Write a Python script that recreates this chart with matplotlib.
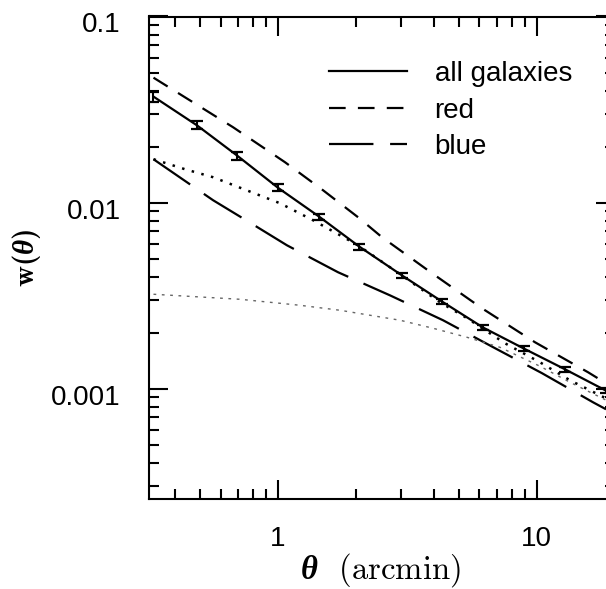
import matplotlib
matplotlib.use("Agg")
import matplotlib.pyplot as plt
from matplotlib.ticker import FuncFormatter, NullFormatter, LogLocator
from matplotlib.lines import Line2D
from matplotlib.transforms import ScaledTranslation

plt.rcParams['font.family'] = ['Liberation Sans', 'DejaVu Sans']
plt.rcParams['mathtext.fontset'] = 'custom'
plt.rcParams['mathtext.rm'] = 'cmr10'
plt.rcParams['mathtext.bf'] = 'cmb10'
plt.rcParams['mathtext.it'] = 'Liberation Serif:italic:bold'
plt.rcParams['axes.unicode_minus'] = False

# ---- data ----
theta_pts = [0.329, 0.486, 0.694, 1.0, 1.44, 2.06, 3.02, 4.30, 6.20, 8.93, 12.86, 18.5]
w_all = [0.0372, 0.0260, 0.0179, 0.0120, 0.00841, 0.00580, 0.00405, 0.00294,
         0.00213, 0.00164, 0.00127, 0.000976]
w_err = [0.0023, 0.0013, 0.0009, 0.00053, 0.00032, 0.00022, 0.000127, 0.00009,
         0.000066, 0.000051, 0.000040, 0.000030]

theta_red = [0.33, 0.670, 1.064, 1.493, 2.038, 2.523, 3.938, 6.146, 9.85, 15.79, 18.53]
w_red = [0.0469, 0.0254, 0.01647, 0.01164, 0.00834, 0.00651, 0.00417, 0.00270,
         0.001774, 0.001224, 0.001068]

theta_blue = [0.33, 0.561, 0.786, 1.083, 1.706, 2.710, 4.343, 6.779, 10.48, 16.51, 18.53]
w_blue = [0.01709, 0.01029, 0.00774, 0.00589, 0.00422, 0.00317, 0.00233, 0.00167,
          0.00121, 0.000844, 0.000774]

theta_mod = [0.33, 0.437, 0.561, 1.018, 1.366, 1.737, 2.038, 2.963, 4.228, 5.378,
             7.54, 10.30, 13.45, 18.53]
w_mod = [0.0171, 0.01510, 0.01368, 0.00991, 0.00803, 0.00667, 0.00589, 0.00412,
         0.00291, 0.00239, 0.001752, 0.001384, 0.001108, 0.000886]

theta_2h = [0.33, 0.713, 1.216, 1.737, 2.963, 3.974, 5.378, 7.21, 10.30, 13.45, 18.53]
w_2h = [0.003214, 0.003020, 0.002804, 0.002636, 0.00233, 0.002110, 0.001887,
        0.001667, 0.001318, 0.001081, 0.000867]

legend_labels = ['all galaxies', 'red', 'blue']

# ---- figure ----
W, H = 606, 589
fig = plt.figure(figsize=(W / 100, H / 100), dpi=100)
left, right, top, bottom = 148.7, 614.6, 16.5, 499.0
ax = fig.add_axes([left / W, 1 - bottom / H, (right - left) / W, (bottom - top) / H])
ax.set_xscale('log')
ax.set_yscale('log')
ax.set_xlim(10 ** -0.5, 20)
ax.set_ylim(2.55e-4, 0.1)

lw = 1.6
ax.plot(theta_pts, w_all, color='k', lw=lw, solid_capstyle='butt')
ax.errorbar(theta_pts, w_all, yerr=w_err, fmt='none', ecolor='k',
            elinewidth=1.5, capsize=4, capthick=1.6)
ax.plot(theta_red, w_red, color='k', lw=lw, linestyle=(0, (7.5, 5.5)))
ax.plot(theta_blue, w_blue, color='k', lw=lw, linestyle=(0, (20, 7.5)))
ax.plot(theta_mod, w_mod, color='k', lw=1.8, linestyle=(0, (1, 3)))
ax.plot(theta_2h, w_2h, color='#666666', lw=1.0, linestyle=(0, (2, 4)))

for s in ax.spines.values():
    s.set_linewidth(1.5)
ax.tick_params(which='both', direction='in', top=True, right=True, width=1.5,
               labelsize=20)
ax.tick_params(which='major', length=13.7)
ax.tick_params(which='minor', length=7)
ax.tick_params(axis='y', which='major', pad=20)
ax.tick_params(axis='x', which='major', pad=19.5)
ax.xaxis.set_major_locator(LogLocator(base=10))
ax.yaxis.set_major_locator(LogLocator(base=10))
fmt = FuncFormatter(lambda v, p: '%g' % v)
ax.xaxis.set_major_formatter(fmt)
ax.yaxis.set_major_formatter(fmt)
ax.xaxis.set_minor_formatter(NullFormatter())
ax.yaxis.set_minor_formatter(NullFormatter())

fig.canvas.draw()
shift = ScaledTranslation(0, -6 / 100, fig.dpi_scale_trans)
for lab in ax.get_yticklabels():
    lab.set_transform(lab.get_transform() + shift)

ax.set_xlabel(r'$\theta$  (arcmin)', fontsize=23.5, family=['cmr10', 'DejaVu Serif'])
ax.set_ylabel(r'$\mathbf{w(}\theta\mathbf{)}$', fontsize=21)
ax.xaxis.set_label_coords((380 - left) / (right - left), -(551 - bottom) / (bottom - top))
ax.yaxis.set_label_coords(-(148.7 - 43) / (right - left), (bottom - 258) / (bottom - top))

handles = [Line2D([], [], color='k', lw=lw),
           Line2D([], [], color='k', lw=lw, linestyle=(0, (7.5, 5.5))),
           Line2D([], [], color='k', lw=lw, linestyle=(0, (20, 7.5)))]
ax.legend(handles, legend_labels, loc='upper left', frameon=False, fontsize=20,
          bbox_to_anchor=(329 / W, 1 - 61 / H), bbox_transform=fig.transFigure,
          borderpad=0, borderaxespad=0, handlelength=2.8, handletextpad=1.0,
          labelspacing=0.38)

fig.savefig('out.png', dpi=100)
